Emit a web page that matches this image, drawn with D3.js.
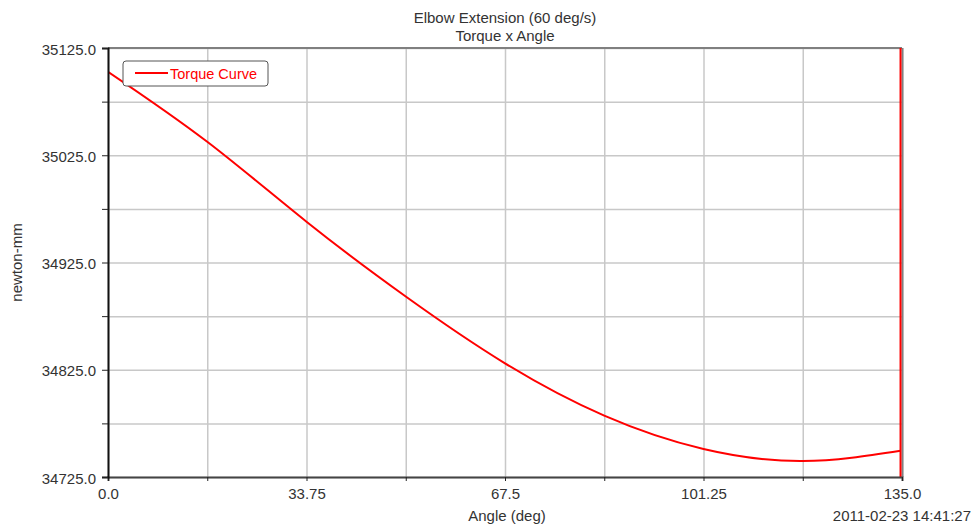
<!DOCTYPE html>
<html>

<head>
    <meta charset="utf-8">
    <style>
        body {
            margin: 0;
            background: #fff;
            font-family: 'Liberation Sans', Arial, sans-serif;
        }

        svg {
            display: block;
        }

        .grid line {
            stroke: #c8c8c8;
            stroke-width: 1.5;
        }

        .grid .domain {
            display: none;
        }

        .axis text {
            font-size: 15px;
            fill: #333;
        }

        .axis line {
            stroke: #222;
        }

        .label {
            font-size: 15px;
            fill: #333;
        }
    </style>
</head>

<body>
    <svg width="973" height="527"></svg>
</body>

<script src="https://cdnjs.cloudflare.com/ajax/libs/d3/7.8.5/d3.min.js"></script>

<script>
    // values, one per grid line
    let angles = [0, 16.875, 33.75, 50.625, 67.5, 84.375, 101.25, 118.125, 134.75]
    let torque = [35102.9, 35037.6, 34963, 34893.3, 34831, 34782.2, 34751.1, 34739.9, 34749.5]

    // the red spike at the end of the trace
    let spikeAngle = 134.75
    let spikeRange = [35200, 34700]

    let xLabels = [0, 33.75, 67.5, 101.25, 135]
    let xMinor = [0, 16.875, 33.75, 50.625, 67.5, 84.375, 101.25, 118.125, 135]
    let yLabels = [34725, 34825, 34925, 35025, 35125]
    let yMinor = [34725, 34775, 34825, 34875, 34925, 34975, 35025, 35075, 35125]

    let titleLines = ["Elbow Extension (60 deg/s)", "Torque x Angle"]
    let seriesName = "Torque Curve"
    let stamp = "2011-02-23 14:41:27"

    let margin = { top: 48, right: 71, bottom: 50, left: 108 }
    let width = 973
    let height = 527

    let svg = d3.select("svg")

    let x = d3.scaleLinear()
        .domain([0, 135])
        .range([margin.left, width - margin.right])

    let y = d3.scaleLinear()
        .domain([34725, 35125])
        .range([height - margin.bottom, margin.top])

    // grid
    svg.append("g")
        .attr("class", "grid")
        .attr("transform", `translate(0, ${margin.top})`)
        .call(d3.axisBottom(x).tickValues(xMinor).tickSize(y(34725) - margin.top).tickFormat(""))

    svg.append("g")
        .attr("class", "grid")
        .attr("transform", `translate(${margin.left}, 0)`)
        .call(d3.axisRight(y).tickValues(yMinor).tickSize(x(135) - margin.left).tickFormat(""))

    // top and right frame
    svg.append("line")
        .attr("x1", x(0)).attr("x2", x(135))
        .attr("y1", y(35125)).attr("y2", y(35125))
        .attr("stroke", "#808080").attr("stroke-width", 2)

    svg.append("line")
        .attr("x1", x(135) + 0.5).attr("x2", x(135) + 0.5)
        .attr("y1", y(35125)).attr("y2", y(34725))
        .attr("stroke", "#808080").attr("stroke-width", 2)

    // clipped trace
    svg.append("clipPath")
        .attr("id", "plot")
        .append("rect")
        .attr("x", x(0))
        .attr("y", y(35125))
        .attr("width", x(135) - x(0))
        .attr("height", y(34725) - y(35125))

    let data = angles.map((a, i) => ({ a: a, v: torque[i] }))

    let line = d3.line()
        .x(d => x(d.a))
        .y(d => y(d.v))
        .curve(d3.curveNatural)

    let plot = svg.append("g").attr("clip-path", "url(#plot)")

    plot.append("path")
        .datum(data)
        .attr("fill", "none")
        .attr("stroke", "#ff0000")
        .attr("stroke-width", 2)
        .attr("d", line)

    plot.append("line")
        .attr("x1", x(spikeAngle)).attr("x2", x(spikeAngle))
        .attr("y1", y(spikeRange[0])).attr("y2", y(spikeRange[1]))
        .attr("stroke", "#ff0000")
        .attr("stroke-width", 2)

    // axes
    svg.append("g")
        .attr("class", "x axis")
        .attr("transform", `translate(0, ${y(34725)})`)
        .call(d3.axisBottom(x).tickValues(xMinor).tickSize(4).tickFormat(""))
        .call(g => g.select(".domain").attr("stroke", "#444").attr("stroke-width", 2))

    svg.append("g")
        .attr("class", "x axis")
        .attr("transform", `translate(0, ${y(34725)})`)
        .call(d3.axisBottom(x).tickValues(xLabels).tickSize(0).tickPadding(11)
            .tickFormat(d => d == 33.75 || d == 101.25 ? d3.format(".2f")(d) : d3.format(".1f")(d)))
        .call(g => g.select(".domain").remove())

    svg.append("g")
        .attr("class", "y axis")
        .attr("transform", `translate(${x(0)}, 0)`)
        .call(d3.axisLeft(y).tickValues(yMinor).tickSize(6)
            .tickFormat(d => yLabels.includes(d) ? d3.format(".1f")(d) : ""))
        .call(g => g.select(".domain").attr("stroke", "#111").attr("stroke-width", 2))
        .call(g => g.selectAll("text").attr("x", -12).attr("dy", "0.4em"))

    // legend
    let legend = svg.append("g")
        .attr("transform", `translate(${x(0) + 15}, ${y(35125) + 13})`)

    legend.append("rect")
        .attr("width", 145)
        .attr("height", 25)
        .attr("rx", 3)
        .attr("fill", "#fff")
        .attr("stroke", "#555")

    legend.append("line")
        .attr("x1", 12).attr("x2", 45)
        .attr("y1", 12).attr("y2", 12)
        .attr("stroke", "#ff0000")
        .attr("stroke-width", 2)

    legend.append("text")
        .attr("x", 47)
        .attr("y", 18)
        .attr("fill", "#ff0000")
        .style("font-size", "14.5px")
        .text(seriesName)

    // titles
    let mid = (x(0) + x(135)) / 2

    svg.selectAll(".title")
        .data(titleLines)
        .join("text")
        .attr("class", "title label")
        .attr("x", mid)
        .attr("y", (d, i) => 23 + i * 18)
        .attr("text-anchor", "middle")
        .text(d => d)

    svg.append("text")
        .attr("class", "label")
        .attr("x", mid + 2)
        .attr("y", 521)
        .attr("text-anchor", "middle")
        .text("Angle (deg)")

    svg.append("text")
        .attr("class", "label")
        .attr("transform", `translate(22, ${(y(34725) + y(35125)) / 2}) rotate(-90)`)
        .attr("text-anchor", "middle")
        .text("newton-mm")

    svg.append("text")
        .attr("class", "label")
        .attr("x", 971)
        .attr("y", 521)
        .attr("text-anchor", "end")
        .text(stamp)
</script>

</html>
